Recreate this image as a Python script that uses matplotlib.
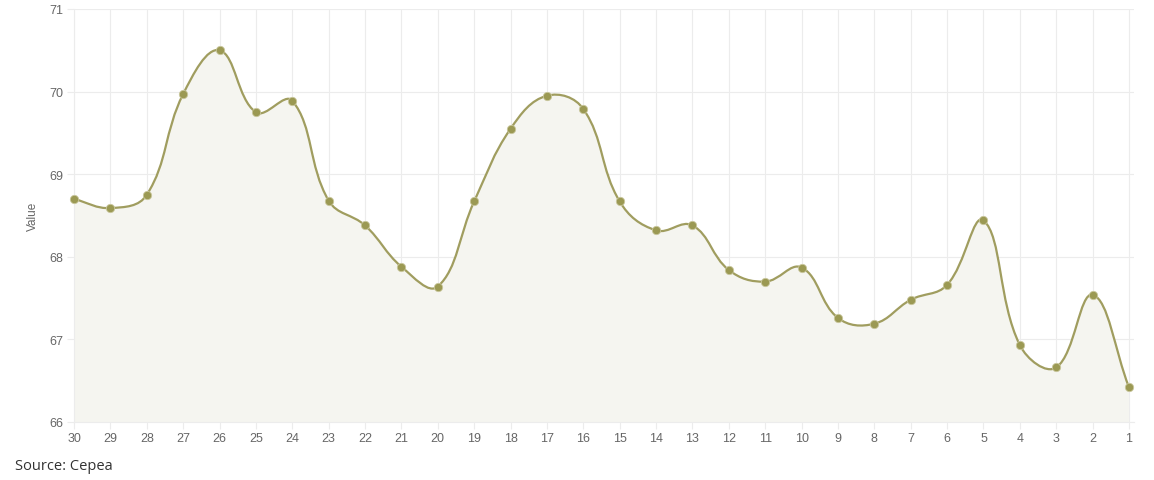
import numpy as np
import matplotlib
matplotlib.use('Agg')
import matplotlib.pyplot as plt
from matplotlib.path import Path
from matplotlib.patches import PathPatch

# Days shown on the x axis (descending) and the values
days = ['30', '29', '28', '27', '26', '25', '24', '23', '22', '21',
        '20', '19', '18', '17', '16', '15', '14', '13', '12', '11',
        '10', '9', '8', '7', '6', '5', '4', '3', '2', '1']
values = [68.70, 68.59, 68.75, 69.97, 70.50, 69.75, 69.89, 68.68, 68.38, 67.88,
          67.64, 68.67, 69.55, 69.95, 69.79, 68.67, 68.32, 68.38, 67.84, 67.70,
          67.87, 67.26, 67.19, 67.48, 67.66, 68.44, 66.93, 66.66, 67.54, 66.42]
y_ticks = [66, 67, 68, 69, 70, 71]

line_color = '#a09d5f'
point_color = '#9b9953'
fill_color = '#f5f5f0'
grid_color = '#ececec'
text_color = '#666666'

W, H = 1154, 481
fig = plt.figure(figsize=(W / 100, H / 100), dpi=100)
# plot area runs a few pixels past the last point, like the reference grid
ax = fig.add_axes([74 / W, 1 - 423 / H, (1134 - 74) / W, (423 - 10) / H])

x = np.arange(len(values))
step = (1129 - 74) / (len(values) - 1)
ax.set_xlim(0, len(values) - 1 + 5 / step)
ax.set_ylim(66, 71)


def spline_path(xs, ys, tension=0.4):
    # Chart.js style bezier smoothing, done in pixel space
    pts = ax.transData.transform(np.column_stack([xs, ys]))
    n = len(pts)
    prev_cp = []
    next_cp = []
    for i in range(n):
        first = pts[max(i - 1, 0)]
        mid = pts[i]
        after = pts[min(i + 1, n - 1)]
        d01 = np.hypot(*(mid - first))
        d12 = np.hypot(*(after - mid))
        tot = d01 + d12
        s01 = d01 / tot if tot else 0
        s12 = d12 / tot if tot else 0
        prev_cp.append(mid - tension * s01 * (after - first))
        next_cp.append(mid + tension * s12 * (after - first))
    verts = [pts[0]]
    codes = [Path.MOVETO]
    for i in range(1, n):
        verts += [next_cp[i - 1], prev_cp[i], pts[i]]
        codes += [Path.CURVE4] * 3
    inv = ax.transData.inverted()
    return inv.transform(np.array(verts)), codes


verts, codes = spline_path(x, values)

# filled area under the curve
fill_verts = np.vstack([verts, [[x[-1], 66], [x[0], 66], verts[0]]])
fill_codes = codes + [Path.LINETO, Path.LINETO, Path.CLOSEPOLY]
ax.add_patch(PathPatch(Path(fill_verts, fill_codes), facecolor=fill_color,
                       edgecolor='none', zorder=1))
ax.add_patch(PathPatch(Path(verts, codes), facecolor='none',
                       edgecolor=line_color, linewidth=1.6, zorder=3))
ax.plot(x, values, linestyle='none', marker='o', markersize=6,
        markerfacecolor=point_color, markeredgecolor='#c9c79d',
        markeredgewidth=0.6, zorder=4, clip_on=False)

ax.set_xticks(x)
ax.set_xticklabels(days)
ax.set_yticks(y_ticks)
ax.grid(True, color=grid_color, linewidth=0.8, zorder=0)
ax.set_axisbelow(True)
for s in ax.spines.values():
    s.set_visible(False)
ax.spines['left'].set_visible(True)
ax.spines['left'].set_color(grid_color)
ax.spines['bottom'].set_visible(True)
ax.spines['bottom'].set_color(grid_color)
ax.tick_params(axis='both', colors=grid_color, labelcolor=text_color,
               labelsize=9, length=5, width=0.8)
ax.tick_params(axis='y', pad=3)
ax.tick_params(axis='x', pad=2)
for lbl in ax.get_xticklabels() + ax.get_yticklabels():
    lbl.set_family('Liberation Sans')

ax.set_ylabel('Value', color=text_color, fontsize=8.5, family='Liberation Sans',
              labelpad=7)

fig.text(15 / W, 1 - 466 / H, 'Source: Cepea', fontsize=10.5, color='#333333',
         family='Open Sans', va='center', ha='left')

fig.savefig('out.png', dpi=100)
